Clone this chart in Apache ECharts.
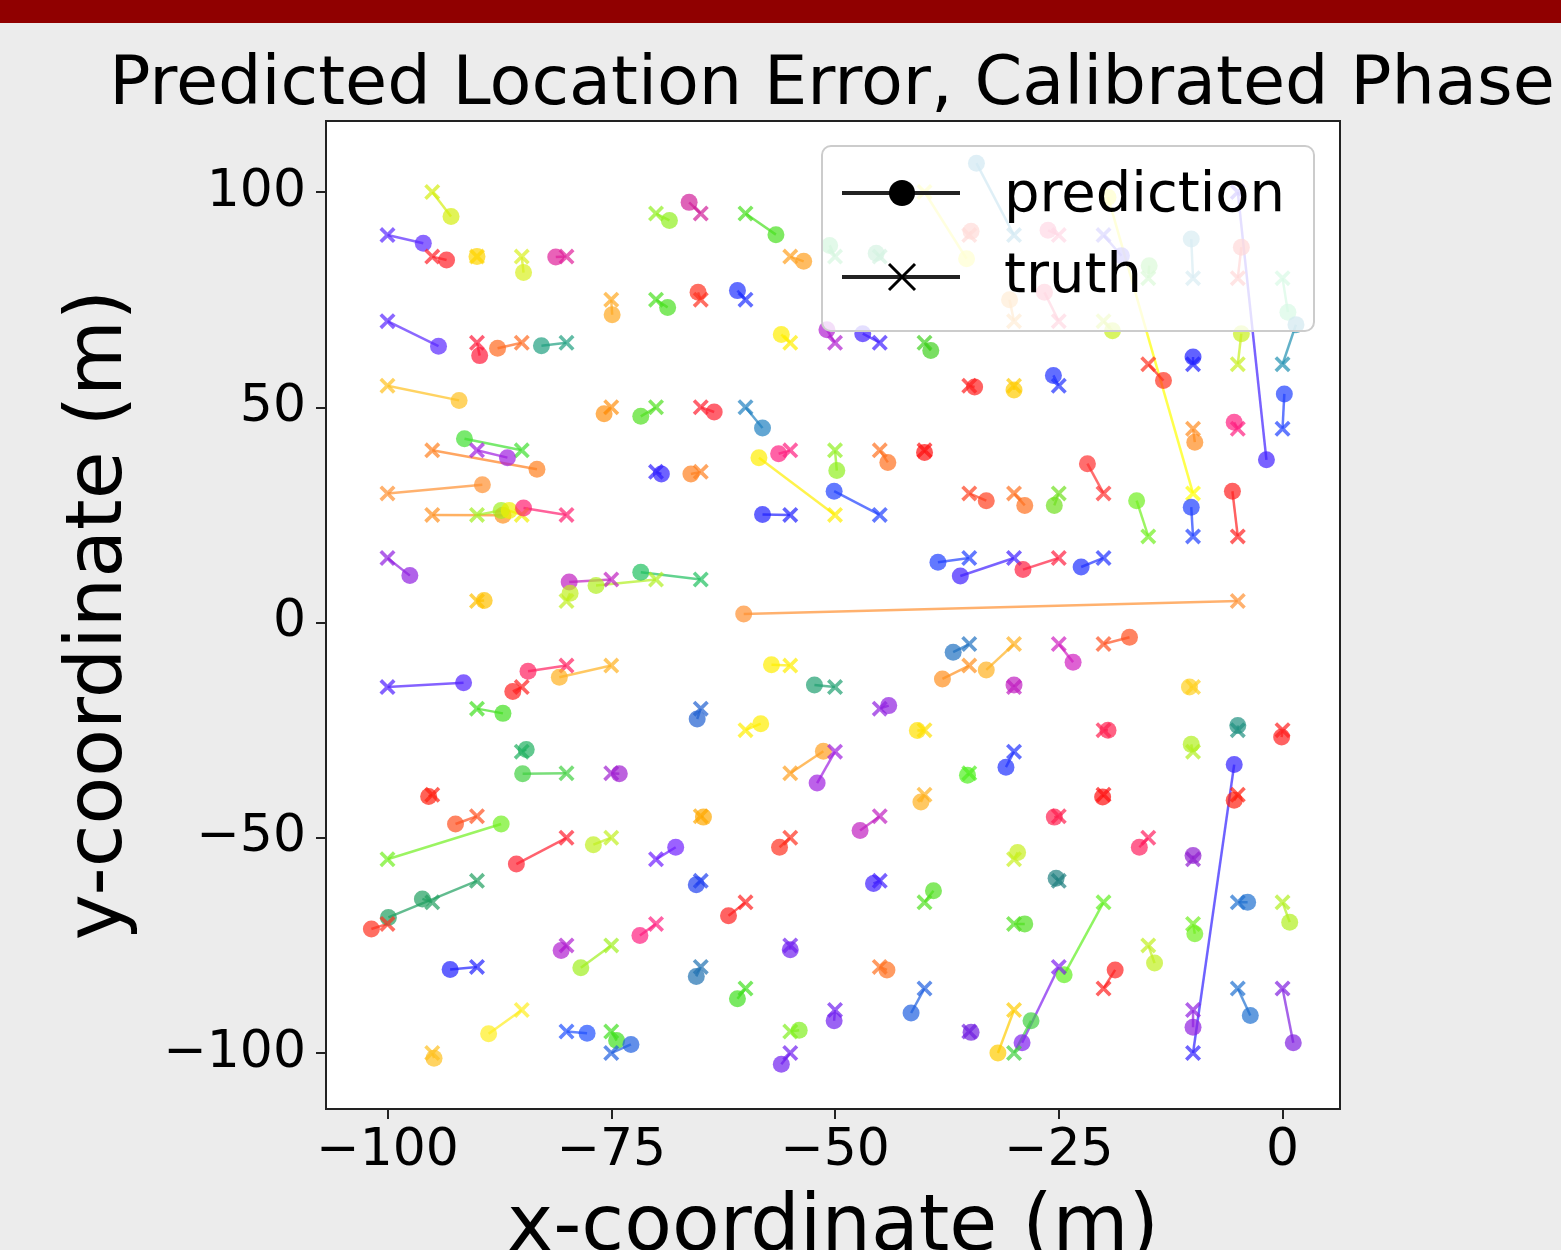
<!DOCTYPE html>
<html>
<head>
<meta charset="utf-8">
<script src="https://cdn.jsdelivr.net/npm/echarts@6/dist/echarts.min.js"></script>
<style>
  html, body { margin: 0; padding: 0; background: #ececec; }
  #chart { width: 1561px; height: 1250px; }
</style>
</head>
<body>
<div id="chart"></div>
<script>
// truth positions (grid points) and predicted positions, one entry per pair
const truthX = [-95, -100, -95, -90, -85, -80, -70, -75, -70, -100, -90, -85, -80, -65, -60, -55, -50, -45, -30, -40,
  -35, -65, -60, -55, -50, -45, -40, -30, -25, -20, -15, -10, -5, 0, -25, -20, -10, -5, -15, -10,
  -5, 0, -25, -30, 0, -10, -5, -20, -30, -25, -15, -10, -5, -35, -30, -25, -20, -5, -100, -75,
  -70, -85, -90, -95, -100, -95, -90, -85, -80, -70, -100, -90, -75, -65, -70, -80, -65, -60, -55, -50,
  -50, -45, -40, -35, -35, -65, -45, -55, -100, -80, -75, -85, -90, -85, -80, -75, -95, -90, -100, -80,
  -75, -70, -55, -50, -65, -60, -45, -40, -55, -50, -35, -30, -65, -40, -45, -55, -35, -35, -30, -25,
  -20, -30, -10, -20, -5, 0, -10, -10, -20, -5, -25, -15, -30, -10, -90, -95, -100, -90, -95, -85,
  -80, -75, -70, -80, -75, -75, -65, -60, -45, -40, -55, -65, -60, -45, -40, -55, -50, -55, -35, -30,
  -25, -30, -20, -25, -30, -20, -15, -10, -5, 0, -5, 0, -10];
const truthY = [100, 90, 85, 85, 85, 85, 95, 75, 75, 70, 65, 65, 65, 95, 95, 85, 85, 85, 90, 100,
  90, 75, 75, 65, 65, 65, 65, 70, 90, 90, 80, 80, 80, 80, 70, 70, 30, 100, 60, 60,
  60, 60, 55, 55, 45, 45, 45, 30, 30, 30, 20, 20, 20, 15, 15, 15, 15, 5, 55, 50,
  50, 40, 40, 40, 30, 25, 25, 25, 25, 35, 15, 5, 10, 10, 10, 5, 50, 50, 40, 25,
  40, 40, 40, 55, 30, 35, 25, 25, -15, -10, -10, -15, -20, -30, -35, -35, -40, -45, -55, -50,
  -50, -55, -10, -15, -20, -25, -20, -25, -35, -30, -35, -30, -45, -40, -45, -50, -5, -10, -5, -5,
  -5, -15, -15, -25, -25, -25, -30, -100, -40, -40, -45, -50, -55, -55, -60, -65, -70, -80, -100, -90,
  -75, -75, -70, -95, -95, -100, -60, -65, -60, -65, -75, -80, -85, -80, -85, -95, -90, -100, -95, -90,
  -60, -70, -65, -80, -100, -85, -75, -70, -65, -65, -85, -85, -90];
const predX = [-92.9, -96.0, -93.4, -90.0, -84.8, -81.2, -68.5, -74.9, -68.7, -94.3, -89.7, -87.7, -82.8, -66.3, -56.6, -53.5, -50.6, -45.4, -34.2, -35.3,
  -34.8, -65.3, -60.9, -56.0, -50.9, -46.9, -39.3, -30.5, -26.2, -18.0, -14.9, -10.2, -4.6, 0.6, -26.6, -19.0, -19.5, -1.8, -13.3, -10.0,
  -4.6, 1.5, -25.6, -30.0, 0.2, -9.8, -5.4, -21.8, -28.8, -25.5, -16.3, -10.2, -5.6, -38.5, -36.0, -29.0, -22.5, -60.2, -92.0, -75.8,
  -71.7, -91.4, -86.6, -83.3, -89.4, -87.1, -87.3, -86.4, -84.8, -69.4, -97.5, -89.2, -79.7, -71.7, -76.7, -79.6, -63.5, -58.1, -56.3, -58.5,
  -49.8, -44.1, -40.0, -34.4, -33.1, -66.1, -50.1, -58.1, -91.5, -84.3, -80.8, -86.0, -87.1, -84.5, -84.9, -74.1, -95.4, -92.4, -87.3, -85.6,
  -77.0, -67.8, -57.1, -52.3, -65.4, -58.3, -44.0, -40.8, -51.3, -52.0, -35.2, -30.9, -64.7, -40.4, -47.2, -56.2, -36.8, -38.0, -33.1, -23.4,
  -17.1, -30.0, -10.4, -19.5, -5.0, -0.1, -10.2, -5.4, -20.1, -5.4, -25.5, -16.0, -29.6, -10.0, -99.9, -96.1, -101.8, -93.0, -94.8, -88.7,
  -80.6, -78.4, -71.8, -77.7, -74.4, -72.8, -65.5, -61.9, -45.7, -39.0, -55.0, -65.5, -60.9, -44.2, -41.5, -54.0, -50.1, -56.0, -34.8, -31.8,
  -25.3, -28.8, -24.4, -29.1, -28.1, -18.7, -14.3, -9.8, -3.9, 0.8, -3.6, 1.2, -10.0];
const predY = [94.3, 88.1, 84.2, 85.0, 81.3, 84.9, 93.4, 71.5, 73.2, 64.2, 62.0, 63.7, 64.3, 97.6, 90.1, 83.9, 87.6, 85.8, 106.7, 84.5,
  90.9, 76.7, 77.1, 66.9, 68.0, 67.1, 63.2, 75.0, 91.1, 85.2, 82.9, 89.1, 87.2, 72.1, 76.7, 67.8, 98.8, 37.8, 56.2, 61.7,
  67.1, 69.2, 57.4, 54.0, 53.1, 41.9, 46.5, 36.9, 27.2, 27.2, 28.3, 26.8, 30.5, 14.0, 10.8, 12.3, 12.9, 2.0, 51.6, 48.5,
  47.9, 42.7, 38.3, 35.6, 32.0, 24.9, 26.0, 26.0, 26.6, 34.5, 10.9, 5.1, 9.4, 11.7, 8.6, 6.8, 48.9, 45.2, 39.2, 38.3,
  35.3, 37.2, 39.5, 54.7, 28.3, 34.5, 30.5, 25.1, -14.0, -11.3, -12.7, -16.0, -21.1, -29.5, -35.1, -35.1, -40.4, -46.8, -46.8, -56.1,
  -51.6, -52.2, -9.8, -14.5, -22.4, -23.5, -19.3, -25.1, -29.9, -37.3, -35.5, -33.6, -45.2, -41.7, -48.3, -52.2, -6.9, -13.1, -11.0, -9.2,
  -3.4, -14.5, -15.0, -25.0, -23.9, -26.6, -28.3, -33.0, -40.5, -41.3, -45.2, -52.2, -53.4, -54.1, -68.5, -64.2, -71.2, -80.6, -101.2, -95.5,
  -76.2, -80.2, -72.7, -95.4, -97.1, -98.0, -60.9, -68.1, -60.6, -62.3, -76.0, -82.2, -87.4, -80.7, -90.7, -94.7, -92.5, -102.6, -95.2, -100.0,
  -59.4, -70.0, -81.8, -97.6, -92.5, -80.7, -79.1, -72.3, -65.0, -69.6, -91.3, -97.6, -94.0];
const pairColors = ['#d4ee10', '#5a28ff', '#ff2028', '#ffd400', '#d8f020', '#e0209a', '#90f020', '#ffa820', '#48e020', '#5a28ff',
  '#ff1a3a', '#ff6a20', '#20a080', '#d0209a', '#48e020', '#ffa020', '#30d060', '#30c070', '#2090c0', '#ffff20',
  '#ff5040', '#ff3020', '#2030ff', '#ffee00', '#b020d0', '#4020ff', '#40d020', '#ffa030', '#ff4080', '#5040ff',
  '#50e040', '#40a0c0', '#ff4040', '#40e080', '#ff4070', '#c8f020', '#ffff00', '#4020ff', '#ff3020', '#2020ff',
  '#c8f020', '#2090b0', '#2030ff', '#ffcc00', '#2040ff', '#ff8c20', '#ff2080', '#ff3030', '#ff7020', '#70e020',
  '#70f020', '#2040ff', '#ff2020', '#2040ff', '#4020ff', '#ff2040', '#2030ff', '#ff9030', '#ffc020', '#ff9010',
  '#50e020', '#40e030', '#a020e0', '#ff8020', '#ff9030', '#ff9020', '#a0f020', '#f0f000', '#ff2070', '#3020ff',
  '#9020e0', '#ffc000', '#c020c0', '#20c060', '#b0f020', '#c0f020', '#ff2030', '#2080c0', '#ff2080', '#ffee00',
  '#90f020', '#ff7020', '#ff1010', '#ff2020', '#ff4020', '#ff8020', '#2040ff', '#2020ff', '#5020ff', '#ff2060',
  '#ffb020', '#ff2020', '#40e020', '#20b060', '#40d040', '#a020d0', '#ff2010', '#ff5020', '#70f020', '#ff2030',
  '#c0f020', '#7020ff', '#ffee00', '#20a070', '#2060d0', '#ffee00', '#9020e0', '#ffe000', '#ffa020', '#a020e0',
  '#50f020', '#2030ff', '#ffa800', '#ffb020', '#c020c0', '#ff3020', '#2070c0', '#ff9020', '#ffb020', '#d020c0',
  '#ff5020', '#c020c0', '#ffd020', '#ff2050', '#209080', '#ff2020', '#b0f020', '#3020ff', '#ff1010', '#ff2010',
  '#ff2050', '#ff2060', '#c8f020', '#9020d0', '#20a060', '#20a060', '#ff3020', '#2020ff', '#ffc020', '#ffee20',
  '#b020d0', '#a0f020', '#ff2080', '#2050ff', '#40e020', '#2060e0', '#2040f0', '#ff2020', '#4020ff', '#50e020',
  '#7020f0', '#2070b0', '#40e020', '#ff7020', '#2060e0', '#80f020', '#7020f0', '#7020f0', '#7020e0', '#ffcc00',
  '#208080', '#50e020', '#60f020', '#8020f0', '#40d040', '#ff2020', '#c0f020', '#70f020', '#2070d0', '#b0f020',
  '#2070d0', '#8020e0', '#9020e0'];
const xTicks = [-100, -75, -50, -25, 0];
const yTicks = [-100, -50, 0, 50, 100];

const FONT = 'DejaVu Sans';
const X_MARK = 'path://M0,1.6L1.6,0L5,3.4L8.4,0L10,1.6L6.6,5L10,8.4L8.4,10L5,6.6L1.6,10L0,8.4L3.4,5Z';
const minusFmt = (v) => (v < 0 ? '\u2212' + Math.abs(v) : String(v));

const chart = echarts.init(document.getElementById('chart'));

// one short line per pair: truth (x marker) -> prediction (dot)
const pairSeries = truthX.map((tx, i) => ({
  type: 'line',
  silent: true,
  animation: false,
  data: [
    { value: [tx, truthY[i]], symbol: X_MARK, symbolSize: 16 },
    { value: [predX[i], predY[i]], symbol: 'circle', symbolSize: 17 },
  ],
  itemStyle: { color: pairColors[i], opacity: 0.7 },
  lineStyle: { color: pairColors[i], width: 2.5, opacity: 0.7 },
}));

const axisCommon = {
  type: 'value',
  splitLine: { show: false },
  axisLine: { show: true, onZero: false, lineStyle: { color: '#222', width: 2 } },
  nameLocation: 'middle',
  nameTextStyle: { fontSize: 78, color: '#000', fontFamily: FONT },
};

// legend drawn by hand on its own layer so it sits over the marks, like a framed matplotlib legend
const LEG = { zlevel: 1, z: 10 };

const option = {
  backgroundColor: '#ececec',
  animation: false,
  title: {
    text: 'Predicted Location Error, Calibrated Phase',
    left: 827,
    top: 47,
    textAlign: 'center',
    textStyle: { fontSize: 68.5, fontWeight: 'normal', color: '#000', fontFamily: FONT },
  },
  grid: {
    left: 326, top: 121, width: 1014, height: 988,
    outerBoundsMode: 'none',
    containLabel: false,
    show: true, backgroundColor: '#fff', borderColor: '#222', borderWidth: 2,
  },
  xAxis: {
    ...axisCommon,
    min: -106.87,
    max: 6.42,
    name: 'x-coordinate (m)',
    nameGap: 82,
    axisTick: { show: true, length: 10, customValues: xTicks, lineStyle: { color: '#222', width: 2 } },
    axisLabel: { customValues: xTicks, fontSize: 52, color: '#000', fontFamily: FONT, margin: 16, formatter: minusFmt },
  },
  yAxis: {
    ...axisCommon,
    min: -113.0,
    max: 116.5,
    name: 'y-coordinate (m)',
    nameGap: 186,
    axisTick: { show: true, length: 10, customValues: yTicks, lineStyle: { color: '#222', width: 2 } },
    axisLabel: { customValues: yTicks, fontSize: 52, color: '#000', fontFamily: FONT, margin: 20, formatter: minusFmt },
  },
  series: pairSeries,
  graphic: [
    { type: 'rect', left: 0, top: 0, ...LEG, shape: { width: 1561, height: 23 }, style: { fill: '#900000' } },
    { type: 'rect', ...LEG, shape: { x: 822, y: 146, width: 492, height: 185, r: 9 }, style: { fill: 'rgba(255,255,255,0.8)', stroke: '#cccccc', lineWidth: 2 } },
    { type: 'line', ...LEG, shape: { x1: 842, y1: 193, x2: 960, y2: 193 }, style: { stroke: '#222', lineWidth: 4 } },
    { type: 'circle', ...LEG, shape: { cx: 902, cy: 193, r: 13 }, style: { fill: '#000' } },
    { type: 'text', ...LEG, x: 1004, y: 196, style: { text: 'prediction', font: '56px "DejaVu Sans"', fill: '#000', verticalAlign: 'middle' } },
    { type: 'line', ...LEG, shape: { x1: 842, y1: 277, x2: 960, y2: 277 }, style: { stroke: '#222', lineWidth: 4 } },
    { type: 'line', ...LEG, shape: { x1: 889, y1: 264, x2: 915, y2: 290 }, style: { stroke: '#000', lineWidth: 3 } },
    { type: 'line', ...LEG, shape: { x1: 889, y1: 290, x2: 915, y2: 264 }, style: { stroke: '#000', lineWidth: 3 } },
    { type: 'text', ...LEG, x: 1004, y: 277, style: { text: 'truth', font: '56px "DejaVu Sans"', fill: '#000', verticalAlign: 'middle' } },
  ],
};

chart.setOption(option);
</script>
</body>
</html>
